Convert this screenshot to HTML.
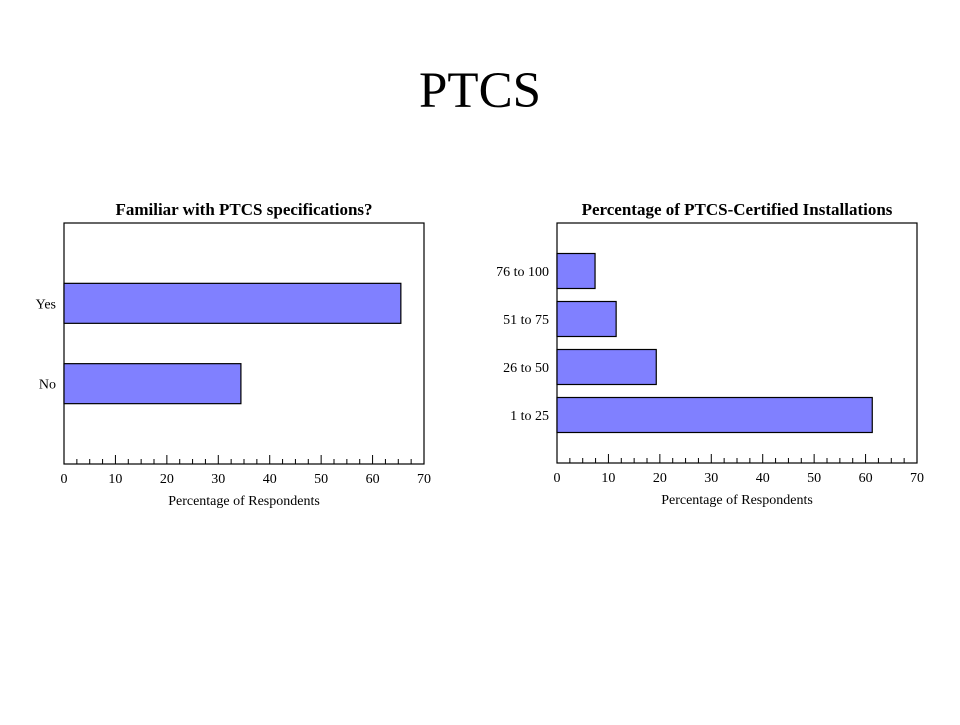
<!DOCTYPE html>
<html><head><meta charset="utf-8"><style>
html,body{margin:0;padding:0;background:#fff;}
svg text{font-family:"Liberation Serif",serif;fill:#000;}
</style></head><body>
<svg width="960" height="720" viewBox="0 0 960 720">
<text x="480" y="107" font-size="51" text-anchor="middle">PTCS</text>
<g id="c1"></g>
<g id="c2"></g>
</svg>
<script>
const c1Categories = ["Yes", "No"];
const c1Values = [65.5, 34.4];
const c2Categories = ["76 to 100", "51 to 75", "26 to 50", "1 to 25"];
const c2Values = [7.4, 11.5, 19.3, 61.3];
const xTicks = [0, 10, 20, 30, 40, 50, 60, 70];

const NS = "http://www.w3.org/2000/svg";
function mk(tag, attrs, parent){const e=document.createElementNS(NS,tag);for(const k in attrs)e.setAttribute(k,attrs[k]);parent.appendChild(e);return e;}

function drawChart(g, cats, vals, box, barH, title, prefix){
  const xMax = 70;
  const xs = v => box.x + v / xMax * box.w;
  const band = box.h / (cats.length + 1);
  const t = mk('text',{x:box.x+box.w/2,y:box.y-8,'font-size':17,'font-weight':'bold','text-anchor':'middle'},g);
  t.textContent = title;
  
  
  const r = mk('rect',{x:box.x,y:box.y,width:box.w,height:box.h,fill:'#fff',stroke:'#000','stroke-width':1.2},g);
  
  
  cats.forEach((c,i)=>{
    const cy = box.y + band*(i+1);
    const b = mk('rect',{x:box.x,y:cy-barH/2,width:xs(vals[i])-box.x,height:barH,fill:'#8080ff',stroke:'#000','stroke-width':1.2},g);
    
    
    const l = mk('text',{x:box.x-8,y:cy+5,'font-size':14,'text-anchor':'end'},g);
    l.textContent = c;
    
    
  });
  const bottom = box.y + box.h;
  for(let v=0; v<=xMax; v+=2.5){
    const major = Math.abs(v%10)<0.01;
    const tk = mk('line',{x1:xs(v),x2:xs(v),y1:bottom,y2:bottom-(major?9:5),stroke:'#000','stroke-width':1},g);
    
    
  }
  xTicks.forEach(v=>{
    const tl = mk('text',{x:xs(v),y:bottom+19,'font-size':14,'text-anchor':'middle'},g);
    tl.textContent = v;
    
    
  });
  const at = mk('text',{x:box.x+box.w/2,y:bottom+41,'font-size':14,'text-anchor':'middle'},g);
  at.textContent = 'Percentage of Respondents';
  
  
}
drawChart(document.getElementById('c1'), c1Categories, c1Values, {x:64,y:223,w:360,h:241}, 40, 'Familiar with PTCS specifications?', 'familiar');
drawChart(document.getElementById('c2'), c2Categories, c2Values, {x:557,y:223,w:360,h:240}, 35, 'Percentage of PTCS-Certified Installations', 'certified');
</script>
</body></html>
